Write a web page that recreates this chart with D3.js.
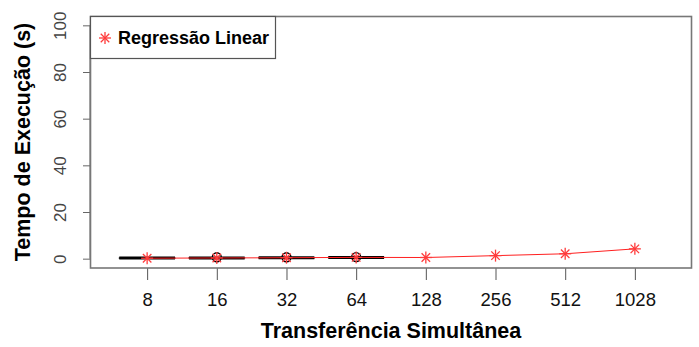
<!DOCTYPE html>
<html>
<head>
<meta charset="utf-8">
<script src="https://cdn.jsdelivr.net/npm/d3@7"></script>
<style>
  body { margin: 0; background: #fff; }
  svg { font-family: "Liberation Sans", Arial, sans-serif; }
</style>
</head>
<body>
<div class="chart"></div>
<script>
// data
var categories = ["8", "16", "32", "64", "128", "256", "512", "1028"];
var regression = [0.2, 0.3, 0.4, 0.55, 0.5, 1.3, 2.1, 4.2];

// boxplots only for the first four categories
var boxCats = ["8", "16", "32", "64"];
var boxQ1 = [0.2, 0.3, 0.35, 0.45];
var boxMedian = [0.25, 0.3, 0.4, 0.5];
var boxQ3 = [0.3, 0.35, 0.45, 0.55];
var boxMin = [0.15, 0.25, 0.3, 0.4];
var boxMax = [0.35, 0.4, 0.5, 0.6];
var outlierCats = ["16", "32", "64"];
var outlierValues = [0.6, 0.6, 0.7];

var yTicks = [0, 20, 40, 60, 80, 100];

var svgWidth = 699;
var svgHeight = 347;

var svg = d3.select(".chart")
  .append("svg")
  .attr("width", svgWidth)
  .attr("height", svgHeight);

// R style: x from 0.18 to 8.82, y from -4 to 104
var xScale = d3.scaleLinear()
  .domain([0.18, 8.82])
  .range([90, 692]);

var yScale = d3.scaleLinear()
  .domain([-4, 104])
  .range([268, 16]);

var xPos = c => xScale(categories.indexOf(c) + 1);

// y axis
var yAxis = d3.axisLeft(yScale).tickValues(yTicks).tickSize(7).tickFormat(d3.format("d"));
var yG = svg.append("g")
  .attr("transform", "translate(90,0)")
  .call(yAxis);
yG.select(".domain").attr("d", `M0,${yScale(0)}V${yScale(100)}`).attr("stroke", "#666");
yG.selectAll(".tick line").attr("stroke", "#666");
yG.selectAll(".tick text")
  .attr("dy", null)
  .attr("text-anchor", "middle")
  .attr("transform", "translate(-30,0) rotate(-90)")
  .attr("x", 0).attr("y", 6)
  .attr("font-size", "17px")
  .attr("fill", "#444");

// x axis
var xAxis = d3.axisBottom(xScale)
  .tickValues(d3.range(1, categories.length + 1))
  .tickSize(12)
  .tickFormat(i => categories[i - 1]);
var xG = svg.append("g")
  .attr("transform", "translate(0,268)")
  .call(xAxis);
xG.select(".domain").remove();
xG.selectAll(".tick line").attr("stroke", "#555");
xG.selectAll(".tick text")
  .attr("y", 32)
  .attr("dy", "0.35em")
  .attr("font-size", "18.5px")
  .attr("fill", "#111");

// plot frame
svg.append("rect")
  .attr("x", 90.5).attr("y", 16.5)
  .attr("width", 601).attr("height", 251.5)
  .attr("fill", "none")
  .attr("stroke", "#777")
  .attr("stroke-width", 1.6);

// boxplots
var boxW = xScale(1.4) - xScale(1);
var boxes = svg.append("g");
boxCats.forEach(function(c, i) {
  var cx = xPos(c);
  boxes.append("line")
    .attr("x1", cx).attr("x2", cx)
    .attr("y1", yScale(boxMin[i])).attr("y2", yScale(boxMax[i]))
    .attr("stroke", "#000").attr("stroke-dasharray", "3,3");
  boxes.append("rect")
    .attr("x", cx - boxW).attr("width", 2 * boxW)
    .attr("y", yScale(boxQ3[i])).attr("height", yScale(boxQ1[i]) - yScale(boxQ3[i]))
    .attr("fill", "none").attr("stroke", "#000").attr("stroke-width", 1);
  boxes.append("line")
    .attr("x1", cx - boxW).attr("x2", cx + boxW)
    .attr("y1", yScale(boxMedian[i])).attr("y2", yScale(boxMedian[i]))
    .attr("stroke", "#000").attr("stroke-width", 3);
});

boxes.selectAll("circle.out")
  .data(outlierCats)
  .enter()
  .append("circle")
  .attr("cx", d => xPos(d))
  .attr("cy", (d, i) => yScale(outlierValues[i]))
  .attr("r", 4.5)
  .attr("fill", "none")
  .attr("stroke", "#000")
  .attr("stroke-width", 1.3);

// regression line and stars
var line = d3.line()
  .x((d, i) => xScale(i + 1))
  .y(d => yScale(d));

svg.append("path")
  .datum(regression)
  .attr("d", line)
  .attr("fill", "none")
  .attr("stroke", "#ff2020")
  .attr("stroke-width", 1);

function star(g, x, y, r) {
  var s = g.append("g")
    .attr("transform", `translate(${x},${y})`)
    .attr("stroke", "#ff3b3b")
    .attr("stroke-width", 1.3);
  [0, 45, 90, 135].forEach(function(a) {
    var rad = a * Math.PI / 180;
    s.append("line")
      .attr("x1", -r * Math.cos(rad)).attr("y1", -r * Math.sin(rad))
      .attr("x2", r * Math.cos(rad)).attr("y2", r * Math.sin(rad));
  });
}

var stars = svg.append("g");
regression.forEach(function(v, i) {
  star(stars, xScale(i + 1), yScale(v), 6);
});

// legend
var legend = svg.append("g");
legend.append("rect")
  .attr("x", 90.5).attr("y", 16.5)
  .attr("width", 185).attr("height", 42)
  .attr("fill", "#fff")
  .attr("stroke", "#555")
  .attr("stroke-width", 1.2);
star(legend, 105, 38, 6);
legend.append("text")
  .attr("x", 118)
  .attr("y", 44)
  .attr("font-size", "18px")
  .attr("font-weight", "bold")
  .attr("fill", "#000")
  .text("Regressão Linear");

// axis titles
svg.append("text")
  .attr("x", 391)
  .attr("y", 338)
  .attr("text-anchor", "middle")
  .attr("font-size", "21.5px")
  .attr("font-weight", "bold")
  .text("Transferência Simultânea");

svg.append("text")
  .attr("transform", "translate(30,142) rotate(-90)")
  .attr("text-anchor", "middle")
  .attr("font-size", "21.5px")
  .attr("font-weight", "bold")
  .text("Tempo de Execução (s)");
</script>
</body>
</html>
